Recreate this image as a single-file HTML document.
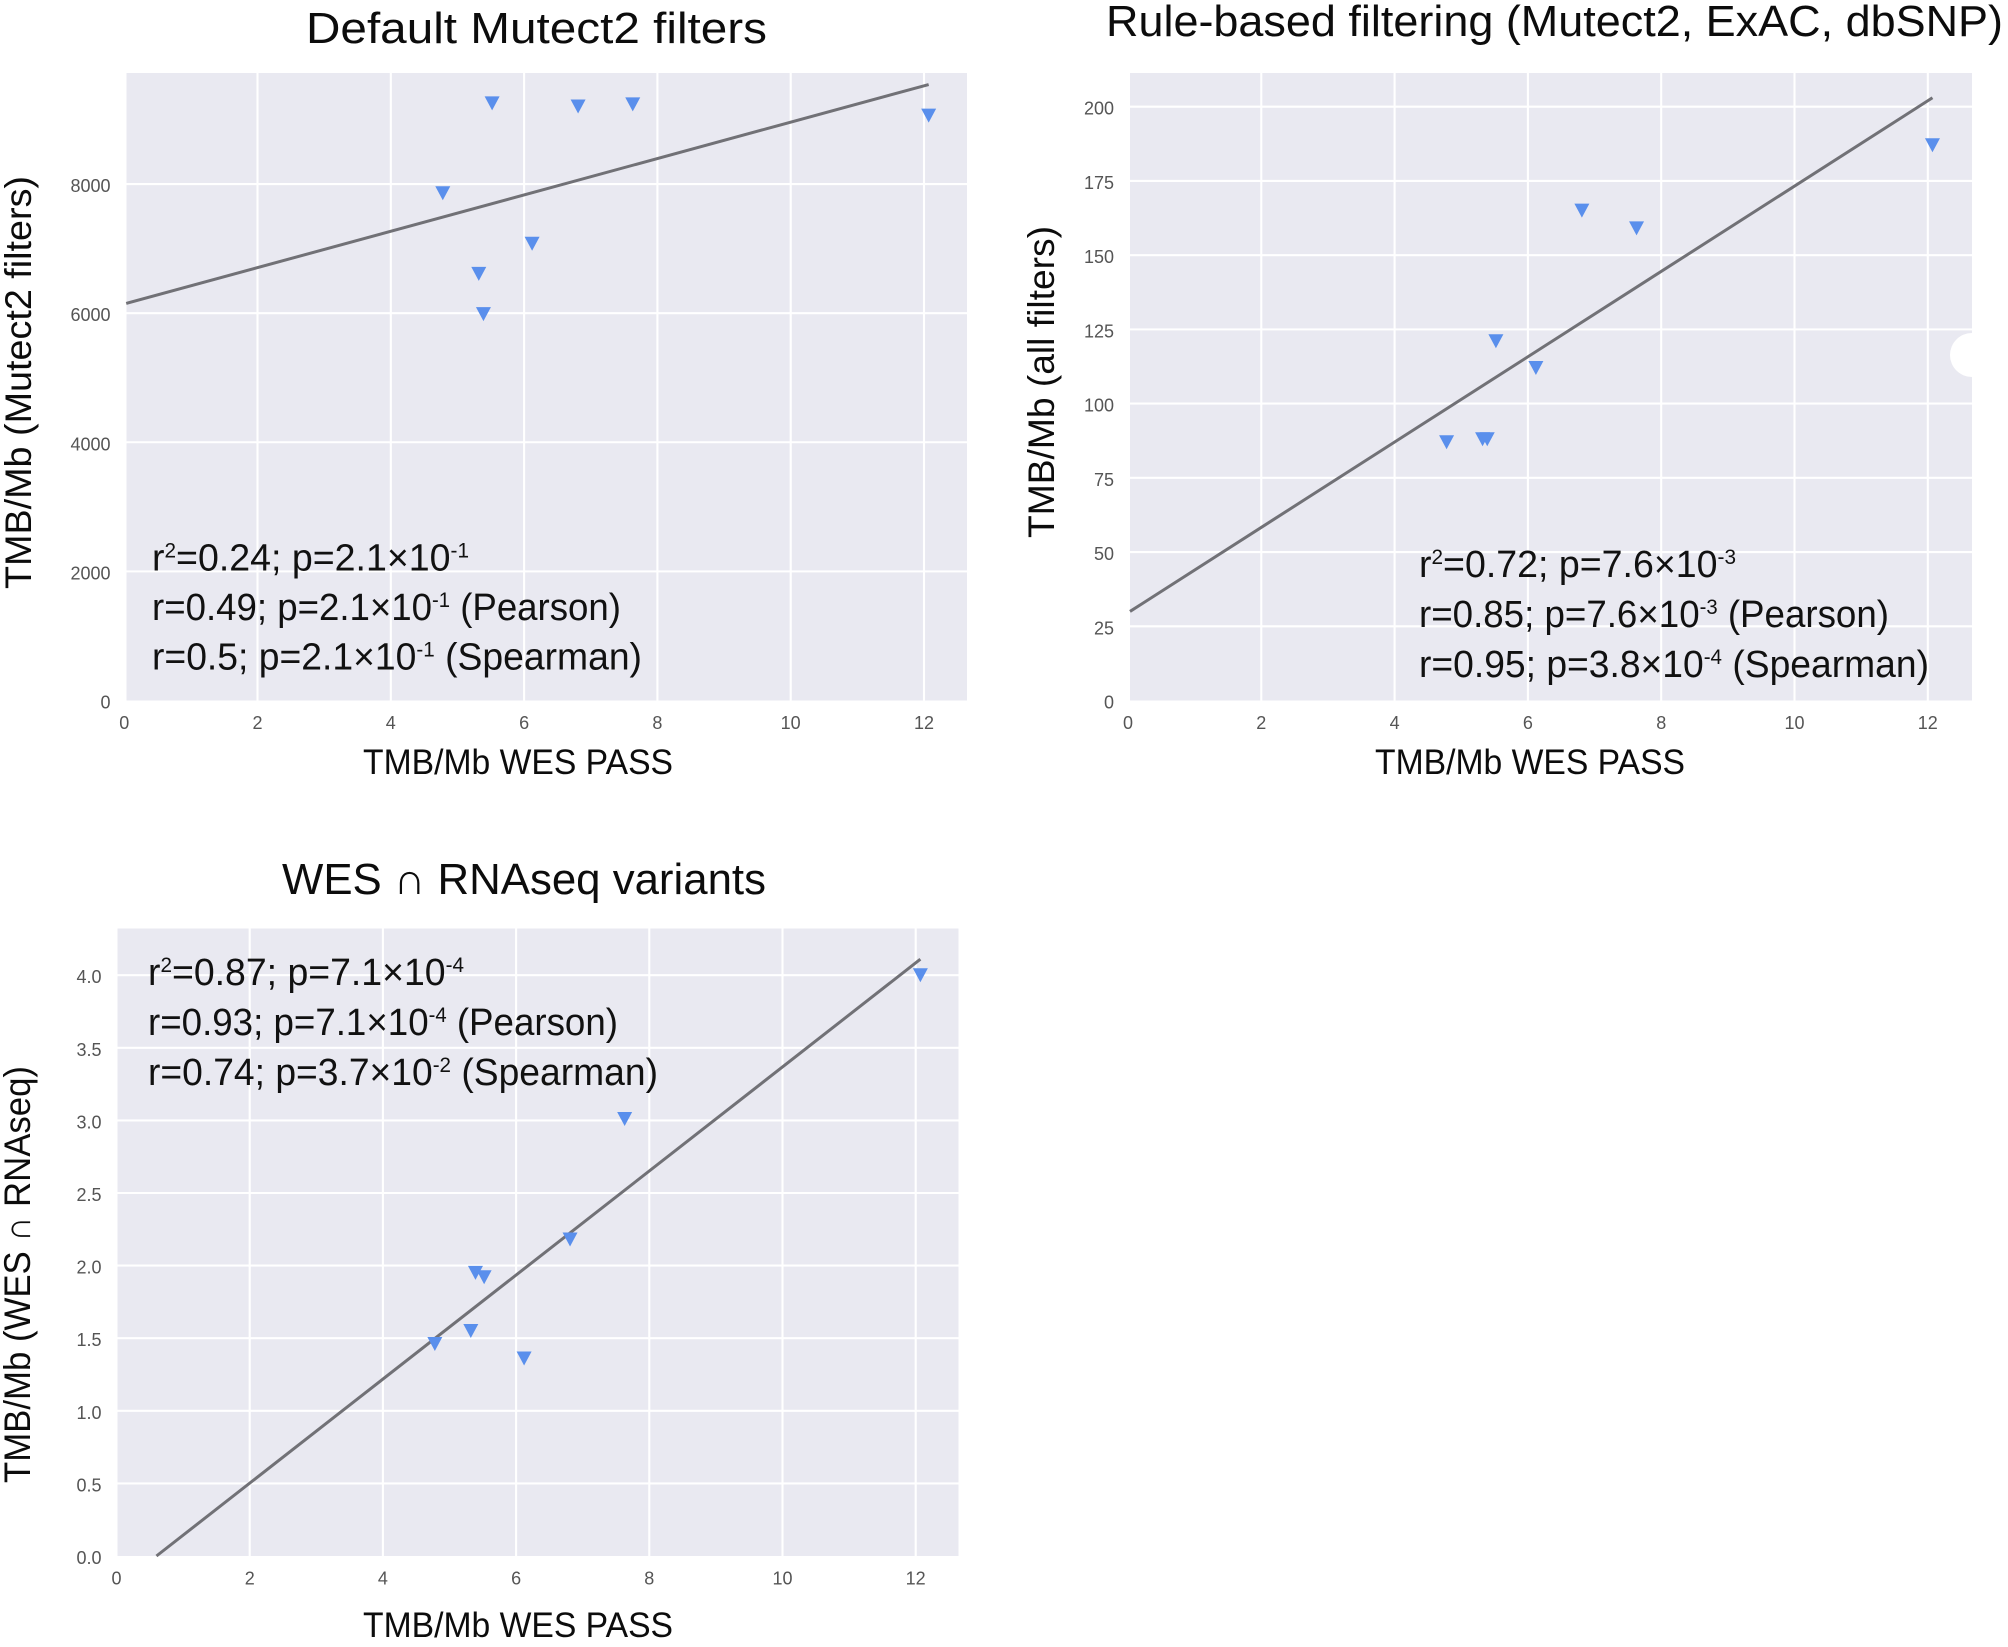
<!DOCTYPE html>
<html lang="en">
<head>
<meta charset="utf-8">
<title>TMB correlation scatter plots</title>
<style>
html,body{margin:0;padding:0;background:#fff;width:2008px;height:1647px;overflow:hidden}
svg{display:block;font-family:"Liberation Sans","DejaVu Sans",sans-serif}
.title{font-size:44px;fill:#0c0c0c}
.axis{font-size:35px;fill:#0c0c0c}
.yaxis{font-size:37px;fill:#0c0c0c}
.note{font-size:38px;fill:#111}
.tick{font-size:18px;fill:#555}
</style>
</head>
<body>
<svg id="figure" xmlns="http://www.w3.org/2000/svg" width="2008" height="1647" viewBox="0 0 2008 1647">
  <g id="panel-a"></g>
  <g id="panel-b"></g>
  <g id="panel-c"></g>

  <text class="title" x="306" y="43" textLength="461" lengthAdjust="spacingAndGlyphs">Default Mutect2 filters</text>
  <text class="axis" x="363" y="774" textLength="310" lengthAdjust="spacingAndGlyphs">TMB/Mb WES PASS</text>
  <text class="yaxis" transform="translate(31,589) rotate(-90)" textLength="413" lengthAdjust="spacingAndGlyphs">TMB/Mb (Mutect2 filters)</text>
  <text class="note" x="152" y="570.5" textLength="317" lengthAdjust="spacingAndGlyphs">r<tspan dy="-13" font-size="21">2</tspan><tspan dy="13">=0.24; p=2.1×10</tspan><tspan dy="-13" font-size="21">-1</tspan></text>
  <text class="note" x="152" y="620" textLength="469" lengthAdjust="spacingAndGlyphs">r=0.49; p=2.1×10<tspan dy="-13" font-size="21">-1</tspan><tspan dy="13"> (Pearson)</tspan></text>
  <text class="note" x="152" y="669.5" textLength="490" lengthAdjust="spacingAndGlyphs">r=0.5; p=2.1×10<tspan dy="-13" font-size="21">-1</tspan><tspan dy="13"> (Spearman)</tspan></text>

  <text class="title" x="1106" y="36" textLength="897" lengthAdjust="spacingAndGlyphs">Rule-based filtering (Mutect2, ExAC, dbSNP)</text>
  <text class="axis" x="1375" y="774" textLength="310" lengthAdjust="spacingAndGlyphs">TMB/Mb WES PASS</text>
  <text class="yaxis" transform="translate(1054,538) rotate(-90)" textLength="312" lengthAdjust="spacingAndGlyphs">TMB/Mb (all filters)</text>
  <text class="note" x="1419" y="577" textLength="317" lengthAdjust="spacingAndGlyphs">r<tspan dy="-13" font-size="21">2</tspan><tspan dy="13">=0.72; p=7.6×10</tspan><tspan dy="-13" font-size="21">-3</tspan></text>
  <text class="note" x="1419" y="627" textLength="470" lengthAdjust="spacingAndGlyphs">r=0.85; p=7.6×10<tspan dy="-13" font-size="21">-3</tspan><tspan dy="13"> (Pearson)</tspan></text>
  <text class="note" x="1419" y="677" textLength="510" lengthAdjust="spacingAndGlyphs">r=0.95; p=3.8×10<tspan dy="-13" font-size="21">-4</tspan><tspan dy="13"> (Spearman)</tspan></text>

  <text class="title" x="282" y="894" textLength="484" lengthAdjust="spacingAndGlyphs">WES ∩ RNAseq variants</text>
  <text class="axis" x="363" y="1637" textLength="310" lengthAdjust="spacingAndGlyphs">TMB/Mb WES PASS</text>
  <text class="yaxis" transform="translate(30,1483) rotate(-90)" textLength="417" lengthAdjust="spacingAndGlyphs">TMB/Mb (WES ∩ RNAseq)</text>
  <text class="note" x="148" y="985" textLength="316" lengthAdjust="spacingAndGlyphs">r<tspan dy="-13" font-size="21">2</tspan><tspan dy="13">=0.87; p=7.1×10</tspan><tspan dy="-13" font-size="21">-4</tspan></text>
  <text class="note" x="148" y="1035" textLength="470" lengthAdjust="spacingAndGlyphs">r=0.93; p=7.1×10<tspan dy="-13" font-size="21">-4</tspan><tspan dy="13"> (Pearson)</tspan></text>
  <text class="note" x="148" y="1085" textLength="510" lengthAdjust="spacingAndGlyphs">r=0.74; p=3.7×10<tspan dy="-13" font-size="21">-2</tspan><tspan dy="13"> (Spearman)</tspan></text>
</svg>
<script>
// Shared x values: TMB/Mb WES PASS, one per sample
const wesPass = [4.78, 5.32, 5.39, 5.52, 6.12, 6.81, 7.63, 12.07];
const xTickValues = [0, 2, 4, 6, 8, 10, 12];

// Default Mutect2 filters
const mutect2Values = [7857, 6609, 5984, 9249, 7075, 9200, 9233, 9059];
const mutect2TrendX = [0.03, 12.07];
const mutect2TrendY = [6150, 9541];
const mutect2Ticks = [0, 2000, 4000, 6000, 8000];

// Rule-based filtering
const ruleValues = [87, 88, 88, 121, 112, 165, 159, 187];
const ruleTrendX = [0.03, 12.07];
const ruleTrendY = [30, 203];
const ruleTicks = [0, 25, 50, 75, 100, 125, 150, 175, 200];

// WES intersect RNAseq
const rnaValues = [1.46, 1.55, 1.95, 1.92, 1.36, 2.18, 3.01, 4.00];
const rnaTrendX = [0.6, 12.07];
const rnaTrendY = [0, 4.11];
const rnaTicks = ['0.0', '0.5', '1.0', '1.5', '2.0', '2.5', '3.0', '3.5', '4.0'];

const SVG_NS = 'http://www.w3.org/2000/svg';

function make(tag, parent, attrs) {
  const el = document.createElementNS(SVG_NS, tag);
  for (const k in attrs) el.setAttribute(k, attrs[k]);
  parent.appendChild(el);
  return el;
}

function drawPanel(group, box, ys, yTicks, trendX, trendY) {
  const sx = function (v) { return box.x0 + v * box.xScale; };
  const sy = function (v) { return box.y0 - v * box.yScale; };

  const bg = make('rect', group, { x: box.left, y: box.top, width: box.right - box.left, height: box.y0 - box.top, fill: '#e9e9f1' });
  
  

  xTickValues.forEach(function (t) {
    if (t > 0) {
      const g = make('line', group, { x1: sx(t), x2: sx(t), y1: box.top, y2: box.y0, stroke: '#fff', 'stroke-width': 2.1 });
      
      
    }
    const lab = make('text', group, { x: sx(t), y: box.y0 + 28.5, 'text-anchor': 'middle', class: 'tick' });
    lab.textContent = String(t);
    
    
  });

  yTicks.forEach(function (t) {
    const v = Number(t);
    if (v > 0) {
      const g = make('line', group, { x1: box.left, x2: box.right, y1: sy(v), y2: sy(v), stroke: '#fff', 'stroke-width': 2.1 });
      
      
    }
    const lab = make('text', group, { x: box.left - 16, y: sy(v) + 8, 'text-anchor': 'end', class: 'tick' });
    lab.textContent = String(t);
    
    
  });

  if (box.notch) {
    const clipId = box.notch.id;
    const defs = make('defs', group, {});
    const clip = make('clipPath', defs, { id: clipId });
    make('rect', clip, { x: box.left, y: box.top, width: box.right - box.left, height: box.y0 - box.top });
    const n = make('circle', group, { cx: box.notch.cx, cy: box.notch.cy, r: box.notch.r, fill: '#fff', 'clip-path': 'url(#' + clipId + ')' });
    
    
  }

  const trend = make('line', group, {
    x1: sx(trendX[0]), y1: sy(trendY[0]), x2: sx(trendX[1]), y2: sy(trendY[1]),
    stroke: '#717176', 'stroke-width': 3, 'stroke-linecap': 'butt'
  });
  
  

  ys.forEach(function (v, i) {
    const cx = sx(wesPass[i]);
    const cy = sy(v);
    const pts = [(cx - 7.5) + ',' + (cy - 7) + ' ' + (cx + 7.5) + ',' + (cy - 7) + ' ' + cx + ',' + (cy + 7)].join(' ');
    const m = make('polygon', group, { points: pts, fill: '#5a8fec' });
    
    
  });
}

drawPanel(document.getElementById('panel-a'),
  { x0: 124.2, left: 126.5, right: 967, top: 73, y0: 700.5, xScale: 66.65, yScale: 0.06456 },
  mutect2Values, mutect2Ticks, mutect2TrendX, mutect2TrendY);

drawPanel(document.getElementById('panel-b'),
  { x0: 1128, left: 1130, right: 1972, top: 73, y0: 700.5, xScale: 66.65, yScale: 2.969,
    notch: { id: 'notch-clip', cx: 1972, cy: 355, r: 22 } },
  ruleValues, ruleTicks, ruleTrendX, ruleTrendY);

drawPanel(document.getElementById('panel-c'),
  { x0: 116.5, left: 117.5, right: 958.5, top: 928.5, y0: 1556, xScale: 66.6, yScale: 145.2 },
  rnaValues, rnaTicks, rnaTrendX, rnaTrendY);
</script>
</body>
</html>
